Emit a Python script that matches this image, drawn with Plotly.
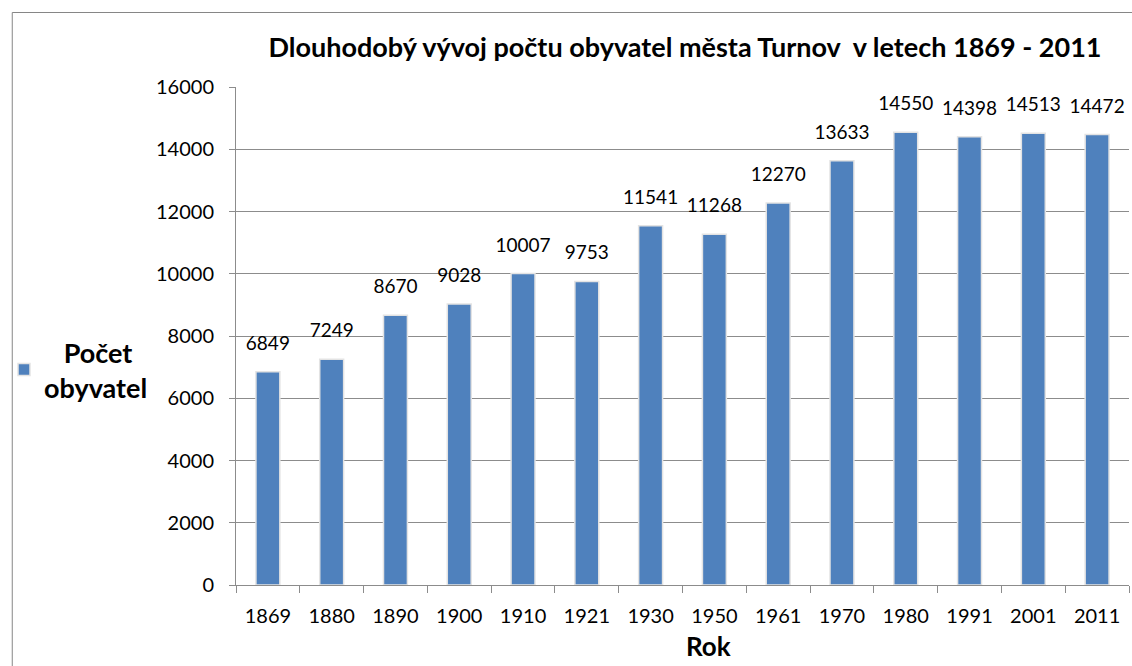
import plotly.graph_objects as go

years = ["1869", "1880", "1890", "1900", "1910", "1921", "1930", "1950", "1961", "1970", "1980", "1991", "2001", "2011"]
population = [6849, 7249, 8670, 9028, 10007, 9753, 11541, 11268, 12270, 13633, 14550, 14398, 14513, 14472]
y_ticks = [0, 2000, 4000, 6000, 8000, 10000, 12000, 14000, 16000]

W, H = 1132, 666
L, R, T, B = 233, 3, 87, 81
pw, ph = W - L - R, H - T - B

FONT = "Lato"
BLUE = "#4F81BD"
GRID = "#8C8C8C"

fig = go.Figure()
fig.add_trace(go.Bar(
    x=years, y=population, name="<b>   Počet</b><br><b>obyvatel</b>",
    marker=dict(color=BLUE, line=dict(color="#E3E3E3", width=1.5)),
    hoverinfo="x+y",
))
# data labels, lifted a little above the bar tops as in the original
fig.add_trace(go.Scatter(
    x=years, y=population, mode="markers+text",
    text=[str(v) for v in population], textposition="top center",
    textfont=dict(size=19, color="black", family=FONT),
    marker=dict(size=26, opacity=0),
    showlegend=False, hoverinfo="skip", cliponaxis=False,
))

def px_x(p):
    return (p - L) / pw

def px_y(p):
    return (H - B - p) / ph

fig.update_layout(
    width=W, height=H,
    margin=dict(l=L, r=R, t=T, b=B),
    paper_bgcolor="white", plot_bgcolor="white",
    font=dict(family=FONT, color="black"),
    bargap=0.625,
    showlegend=True,
    legend=dict(xref="container", yref="container", x=4 / W, y=1 - 370 / H,
                xanchor="left", yanchor="middle",
                font=dict(size=27, family=FONT, color="black"),
                bgcolor="rgba(0,0,0,0)", itemwidth=30),
    title=dict(text="<b>Dlouhodobý vývoj počtu obyvatel města Turnov  v letech 1869 - 2011</b>",
               xref="container", yref="container", x=685 / W, y=1 - 48 / H,
               xanchor="center", yanchor="middle",
               font=dict(size=27, family=FONT, color="black")),
    xaxis=dict(type="category", range=[-0.5, len(years) - 0.5], showgrid=False,
               showline=True, linecolor=GRID, linewidth=1,
               ticks="outside", tickson="boundaries", ticklen=7, tickcolor=GRID,
               ticklabelstandoff=13,
               tickfont=dict(size=20, family=FONT, color="black")),
    yaxis=dict(range=[0, 16000], tickvals=y_ticks, tickformat="d", showgrid=True, gridcolor=GRID, gridwidth=1,
               showline=True, linecolor=GRID, linewidth=1, ticks="outside", ticklen=6,
               tickcolor=GRID, zeroline=False, ticklabelstandoff=11,
               tickfont=dict(size=20, family=FONT, color="black")),
    annotations=[dict(text="<b>Rok</b>", xref="paper", yref="paper",
                      x=px_x(707), y=px_y(646), xanchor="center", yanchor="middle",
                      showarrow=False, font=dict(size=26, family=FONT, color="black"))],
    shapes=[dict(type="rect", xref="paper", yref="paper",
                 x0=px_x(8.5), x1=px_x(1200), y0=px_y(700), y1=px_y(12.5),
                 line=dict(color="#868686", width=1), fillcolor="rgba(0,0,0,0)", layer="below")],
)

fig.write_html("out.html", config={"displayModeBar": False},
               post_script="document.body.style.margin='0';")
